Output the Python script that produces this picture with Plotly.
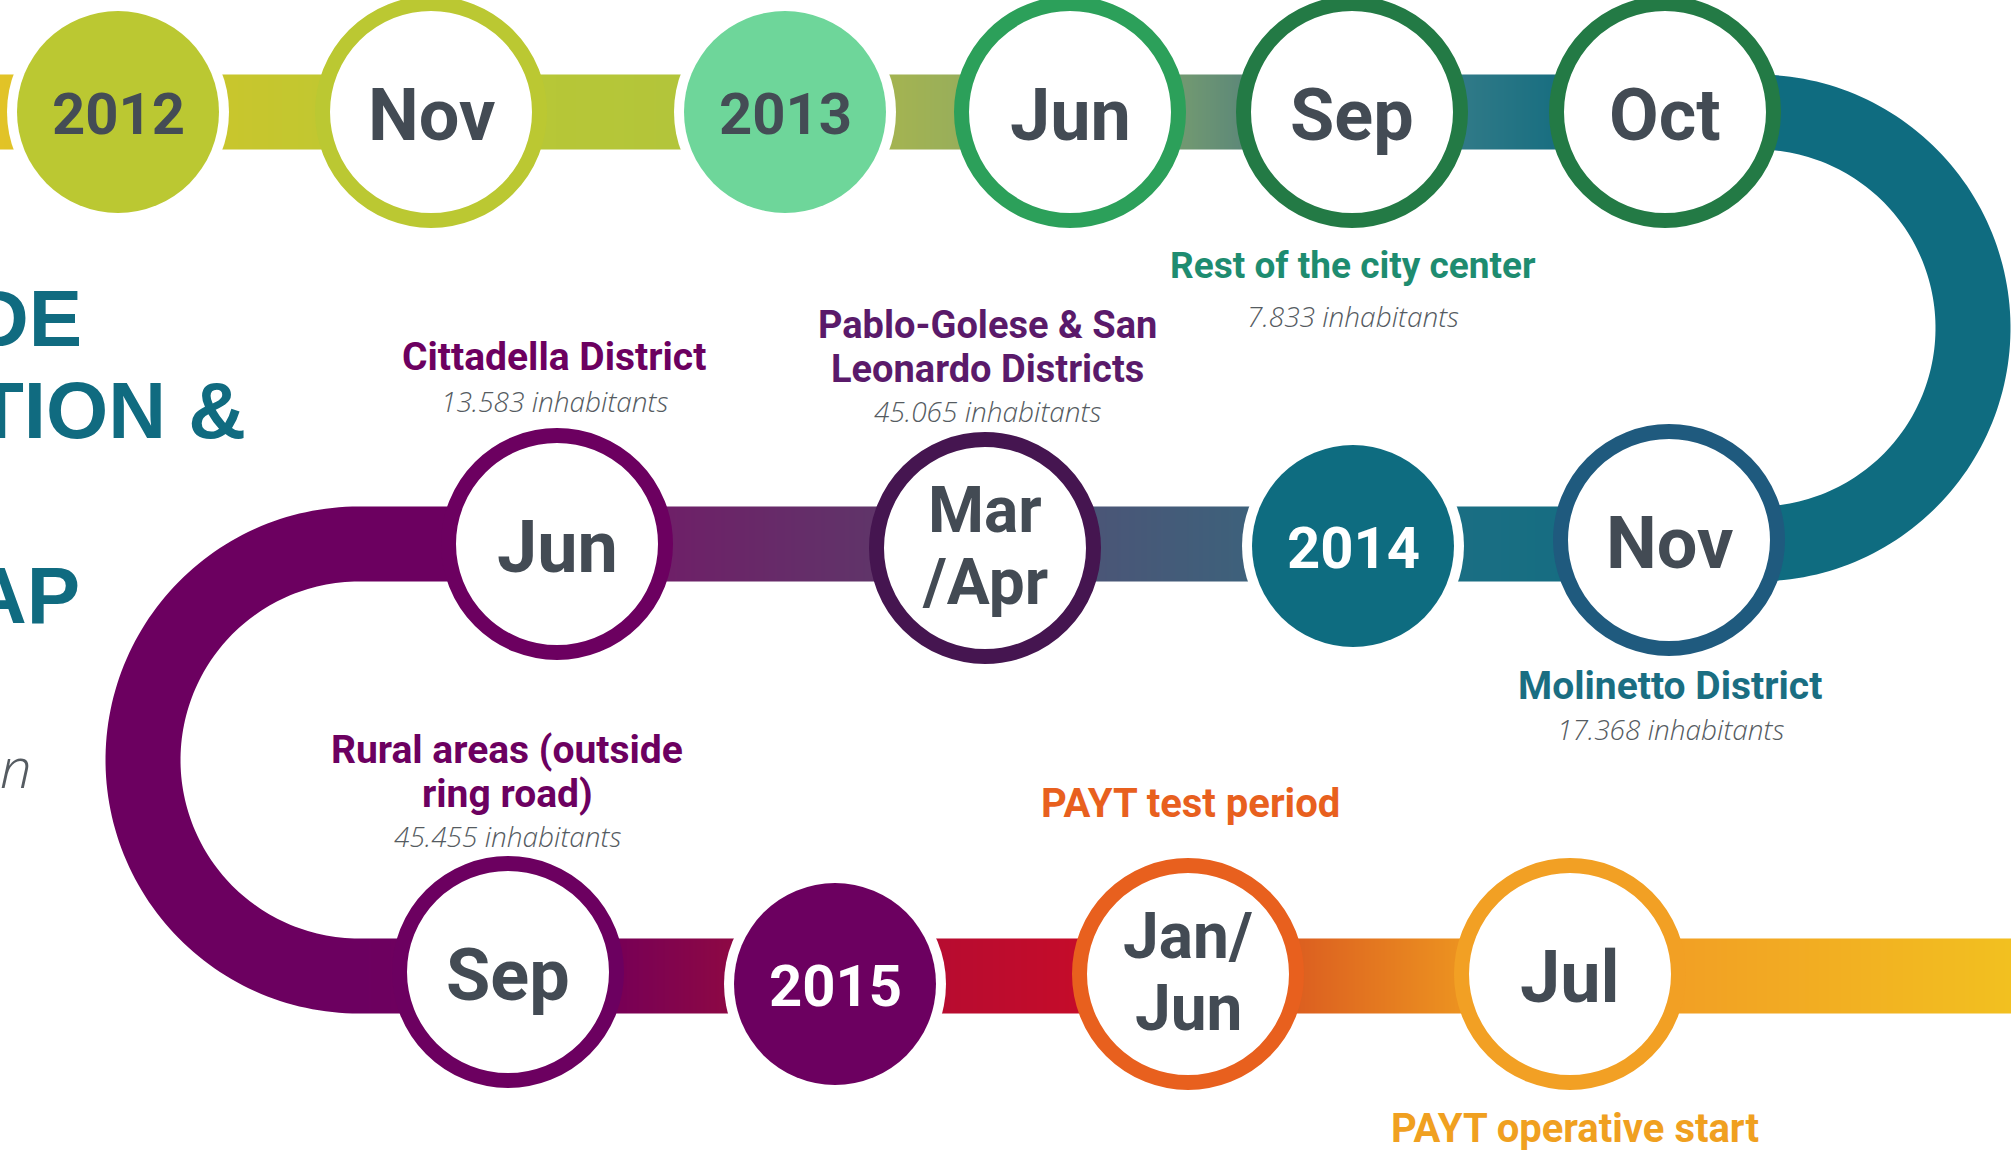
import numpy as np
import plotly.graph_objects as go

# ---------------- data ----------------
event_labels = ["2012", "Nov", "2013", "Jun", "Sep", "Oct",
                "Nov", "2014", "Mar\n/Apr", "Jun",
                "Sep", "2015", "Jan/\nJun", "Jul"]
event_is_year = [True, False, True, False, False, False,
                 False, True, False, False,
                 False, True, False, False]

caption_titles = ["Rest of the city center",
                  "Cittadella District",
                  "Pablo-Golese & San\nLeonardo Districts",
                  "Molinetto District",
                  "Rural areas (outside\nring road)"]
caption_inhabitants = [7833, 13583, 45065, 17368, 45455]

milestone_titles = ["PAYT test period", "PAYT operative start"]

title_fragments = ["DE", "TION &", "AP", "an"]

# ---------------- layout / style (positions in pixel space) ----------------
W, H = 2011, 1153
ROW_Y = [112, 544, 976]
BAND = 75
ARC_R = 216
event_row = [0, 0, 0, 0, 0, 0, 1, 1, 1, 1, 2, 2, 2, 2]
event_x = [118, 431, 785, 1070, 1352, 1665, 1669, 1353, 985, 557, 508, 835, 1188, 1570]
event_dy = [0, 0, 0, 0, 0, 0, -4, 2, 4, 0, -4, 8, -2, -2]
event_color = ["#BBC832", "#BBC832", "#6ED69A", "#2CA05A", "#237A45", "#237A45",
               "#1F5A7E", "#0E6C80", "#451550", "#6C0060",
               "#6C0060", "#6C0060", "#E8601E", "#F2A024"]
year_text_color = ["#444C55", None, "#444C55", None, None, None,
                   None, "#FFFFFF", None, None, None, "#FFFFFF", None, None]
MONTH_R, RING_W = 116, 15
YEAR_R, GAP = 101, 10
TEXT_DARK = "#434B54"

row_span = [(0, 1757), (359, 1757), (359, W)]
row_stops = [
    [(0, "#E2C327"), (230, "#C8C62D"), (440, "#BAC834"), (673, "#B3C53A"),
     (898, "#A3B352"), (960, "#98AE5A"), (1190, "#6F9772"), (1240, "#5E8978"),
     (1470, "#2E7987"), (1550, "#1A6F81"), (1757, "#0F6C80")],
    [(359, "#6C0060"), (560, "#6C0060"), (670, "#6E2068"), (870, "#603469"),
     (1100, "#4A5677"), (1250, "#3D617B"), (1460, "#1A6E83"), (1757, "#0F6C80")],
    [(359, "#6C0060"), (620, "#780055"), (725, "#8C0845"), (945, "#B80C30"),
     (1075, "#C40C2A"), (1300, "#DC6020"), (1460, "#EC9220"), (1680, "#F2A024"),
     (W, "#F2C020")],
]
arcs = [  # center x, center y, start angle, end angle, colour
    (1757, (ROW_Y[0] + ROW_Y[1]) / 2, -90, 90, "#0F6C80"),
    (359, (ROW_Y[1] + ROW_Y[2]) / 2, 90, 270, "#6C0060"),
]

caption_event = [4, 9, 8, 6, 10]
caption_title_y = [265, 357, 347, 686, 772]
caption_count_y = [316, 401, 411, 729, 836]
caption_x = [1353, 554, 987, 1670, 507]
caption_color = ["#1E8C70", "#6C0060", "#5A1A6A", "#1A6E82", "#6C0060"]
caption_size = [37, 39, 38, 39, 39]
milestone_event = [12, 13]
milestone_xy = [(1190, 803), (1575, 1128)]
milestone_color = ["#E8601E", "#F0A020"]
title_xy = [(84, 318), (248, 410), (82, 595), (34, 766)]

BOLD = "Roboto, 'Liberation Sans', Arial, sans-serif"
ITAL = "'Open Sans', 'Noto Sans', sans-serif"

fig = go.Figure()

# gradient bands
for (x0, x1), y, stops in zip(row_span, ROW_Y, row_stops):
    edges = np.arange(x0, x1 + 2, 2, dtype=float)
    edges[-1] = x1
    centers = (edges[:-1] + edges[1:]) / 2
    cs = [[(sx - x0) / (x1 - x0), c] for sx, c in stops]
    fig.add_trace(go.Heatmap(x=edges, y=[y - BAND / 2, y + BAND / 2], z=[centers],
                             zmin=x0, zmax=x1, colorscale=cs, showscale=False,
                             hoverinfo="skip", zsmooth=False))

shapes = []
# arcs
for cx, cy, a0, a1, col in arcs:
    t = np.radians(np.linspace(a0, a1, 120))
    ro, ri = ARC_R + BAND / 2, ARC_R - BAND / 2
    pts = [(cx + ro * np.cos(v), cy + ro * np.sin(v)) for v in t]
    pts += [(cx + ri * np.cos(v), cy + ri * np.sin(v)) for v in t[::-1]]
    path = "M " + " L ".join(f"{px:.2f},{py:.2f}" for px, py in pts) + " Z"
    shapes.append(dict(type="path", path=path, xref="x", yref="y",
                       fillcolor=col, line=dict(width=0), layer="above"))


def circ(cx, cy, r, fill, line_col=None, lw=0):
    return dict(type="circle", xref="x", yref="y", x0=cx - r, x1=cx + r,
                y0=cy - r, y1=cy + r, fillcolor=fill,
                line=dict(color=line_col or fill, width=lw), layer="above")


annotations = []
for i, lab in enumerate(event_labels):
    cx = event_x[i]
    cy = ROW_Y[event_row[i]] + event_dy[i]
    if event_is_year[i]:
        shapes.append(circ(cx, cy, YEAR_R + GAP, "white"))
        shapes.append(circ(cx, cy, YEAR_R, event_color[i]))
        annotations.append(dict(x=cx, y=cy + 2, text=f"<b>{lab}</b>", showarrow=False,
                                xref="x", yref="y", xanchor="center", yanchor="middle",
                                font=dict(family=BOLD, size=58, color=year_text_color[i])))
    else:
        rr = MONTH_R - RING_W / 2
        shapes.append(circ(cx, cy, rr, "white", event_color[i], RING_W))
        lines = lab.split("\n")
        if len(lines) == 1:
            annotations.append(dict(x=cx, y=cy + 3, text=f"<b>{lab}</b>", showarrow=False,
                                    xref="x", yref="y", xanchor="center", yanchor="middle",
                                    font=dict(family=BOLD, size=72, color=TEXT_DARK)))
        else:
            for ln, off in zip(lines, [-38, 34]):
                annotations.append(dict(x=cx, y=cy + off, text=f"<b>{ln}</b>", showarrow=False,
                                        xref="x", yref="y", xanchor="center", yanchor="middle",
                                        font=dict(family=BOLD, size=64, color=TEXT_DARK)))

# captions
for k, title in enumerate(caption_titles):
    lines = title.split("\n")
    ty = caption_title_y[k]
    for j, ln in enumerate(lines):
        annotations.append(dict(x=caption_x[k], y=ty + (j - (len(lines) - 1) / 2) * 44,
                                text=f"<b>{ln}</b>", showarrow=False, xref="x", yref="y",
                                xanchor="center", yanchor="middle", borderpad=0,
                                font=dict(family=BOLD, size=caption_size[k], color=caption_color[k])))
    cnt = f"{caption_inhabitants[k]:,}".replace(",", ".")
    annotations.append(dict(x=caption_x[k], y=caption_count_y[k],
                            text=f"<i>{cnt} inhabitants</i>", showarrow=False,
                            xref="x", yref="y", xanchor="center", yanchor="middle", borderpad=0,
                            font=dict(family=ITAL, size=28, color="#555B61", weight=300)))

for k, title in enumerate(milestone_titles):
    mx, my = milestone_xy[k]
    annotations.append(dict(x=mx, y=my, text=f"<b>{title}</b>", showarrow=False,
                            xref="x", yref="y", xanchor="center", yanchor="middle",
                            font=dict(family=BOLD, size=40, color=milestone_color[k])))

# title fragments on the left edge (the rest of the title lies off the picture)
for k, frag in enumerate(title_fragments):
    tx, ty = title_xy[k]
    if k < 3:
        annotations.append(dict(x=tx, y=ty, text=f"<b>{frag}</b>", showarrow=False,
                                xref="x", yref="y", xanchor="right", yanchor="middle",
                                font=dict(family="'Liberation Sans', Arial, sans-serif",
                                          size=80, color="#106B80")))
    else:
        annotations.append(dict(x=tx, y=ty, text=f"<i>{frag}</i>", showarrow=False,
                                xref="x", yref="y", xanchor="right", yanchor="middle",
                                font=dict(family=ITAL, size=56, color="#555B61", weight=300)))

fig.update_layout(
    width=W, height=H, autosize=False,
    margin=dict(l=0, r=0, t=0, b=0, pad=0),
    paper_bgcolor="white", plot_bgcolor="white",
    xaxis=dict(range=[0, W], visible=False, fixedrange=True, showgrid=False, zeroline=False),
    yaxis=dict(range=[H, 0], visible=False, fixedrange=True, showgrid=False, zeroline=False),
    shapes=shapes, annotations=annotations, showlegend=False,
)

fig.write_html("out.html", config={"displayModeBar": False},
               post_script="document.body.style.margin='0';"
                           "document.body.style.overflow='hidden';")
